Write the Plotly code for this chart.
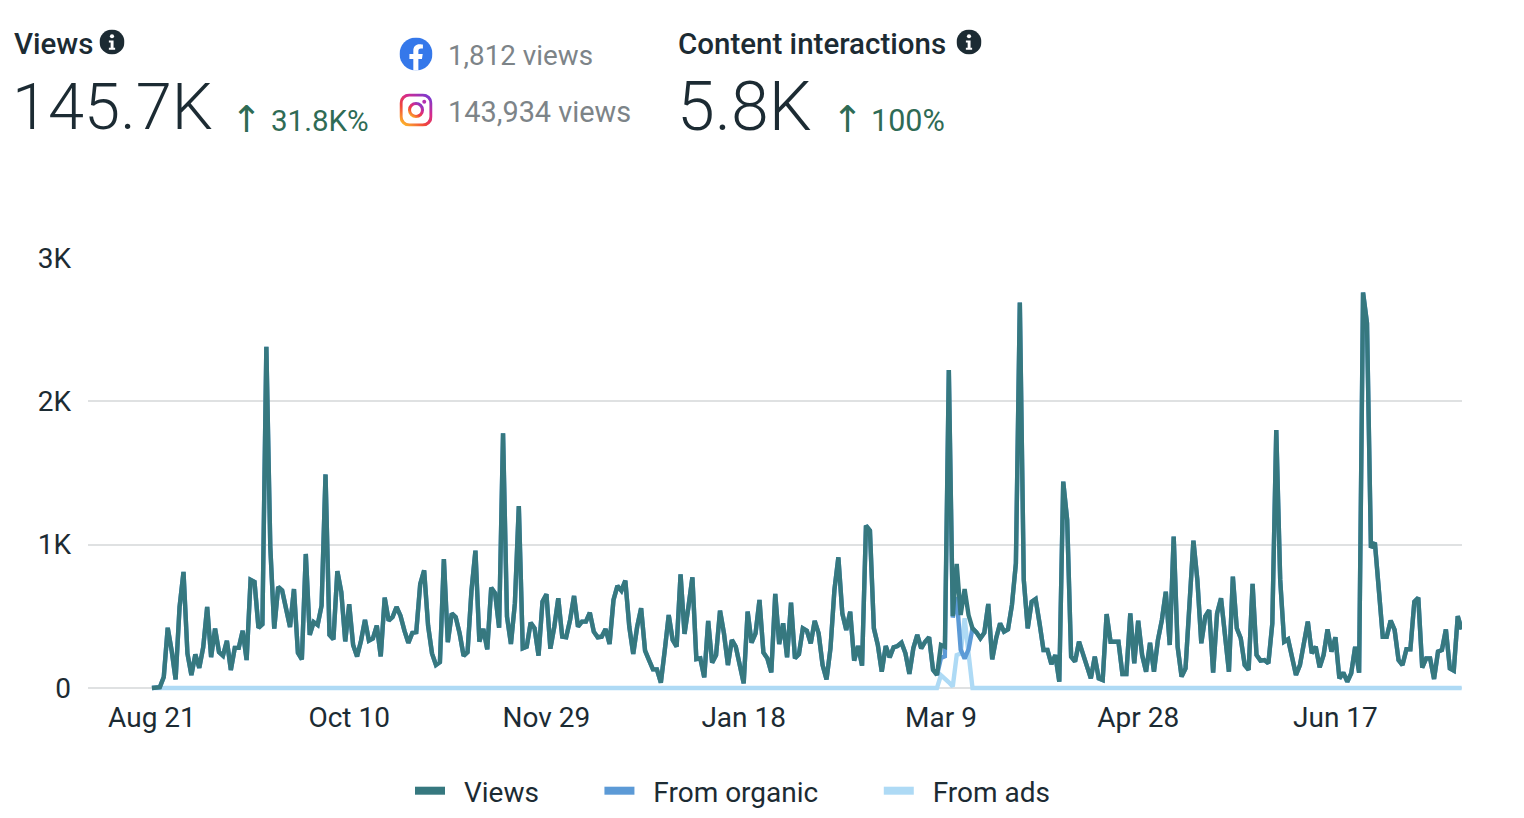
import base64

import pandas as pd
import plotly.graph_objects as go

# Daily values (Aug 21 onwards, one per day)
views = [0, 0, 5, 77, 420, 260, 60, 565, 810, 240, 90, 235, 140, 285, 565, 215, 415, 250, 225, 330,
         125, 280, 280, 400, 195, 755, 740, 420, 445, 2380, 985, 415, 705, 680, 565, 425, 690, 245, 200, 935,
         370, 460, 440, 575, 1490, 370, 340, 815, 670, 325, 585, 300, 220, 330, 475, 330, 345, 435, 220, 630,
         470, 495, 565, 505, 400, 315, 385, 390, 725, 820, 435, 240, 160, 180, 900, 320, 520, 495, 380, 225,
         250, 680, 958, 323, 412, 270, 700, 660, 420, 1777, 498, 307, 590, 1270, 277, 288, 456, 416, 226, 602,
         654, 274, 428, 626, 358, 354, 475, 642, 428, 463, 463, 526, 393, 354, 358, 412, 307, 614, 712, 679,
         749, 428, 237, 428, 556, 260, 195, 130, 130, 37, 265, 509, 335, 288, 793, 377, 568, 772, 202, 207,
         74, 468, 177, 230, 540, 381, 160, 335, 288, 160, 33, 533, 316, 381, 614, 247, 207, 109, 656, 307,
         451, 214, 595, 207, 235, 416, 400, 312, 468, 381, 160, 60, 277, 684, 912, 521, 405, 533, 191, 293,
         156, 1133, 1098, 416, 300, 114, 293, 214, 284, 293, 316, 242, 98, 277, 370, 277, 323, 354, 126, 91,
         300, 288, 2219, 502, 865, 509, 691, 509, 416, 388, 347, 386, 586, 200, 347, 451, 393, 409, 579, 870,
         2689, 754, 416, 602, 621, 451, 265, 265, 167, 230, 44, 1440, 1172, 219, 184, 323, 242, 167, 67, 219,
         67, 56, 516, 323, 323, 323, 98, 98, 521, 172, 470, 230, 114, 316, 114, 335, 474, 672, 300, 1056,
         288, 79, 137, 591, 1028, 754, 312, 498, 544, 107, 521, 626, 358, 114, 777, 416, 347, 160, 126, 726,
         230, 191, 195, 172, 451, 1800, 754, 323, 340, 195, 91, 160, 323, 463, 242, 288, 144, 230, 409, 254,
         354, 67, 107, 44, 102, 288, 107, 2759, 2545, 979, 1014, 719, 358, 358, 470, 405, 195, 160, 270, 270,
         602, 630, 142, 207, 207, 63, 254, 265, 409, 137, 121, 502, 409]

organic = [0, 0, 5, 77, 420, 260, 60, 565, 810, 240, 90, 235, 140, 285, 565, 215, 415, 250, 225, 330,
           125, 280, 280, 400, 195, 755, 740, 420, 445, 2380, 985, 415, 705, 680, 565, 425, 690, 245, 200, 935,
           370, 460, 440, 575, 1490, 370, 340, 815, 670, 325, 585, 300, 220, 330, 475, 330, 345, 435, 220, 630,
           470, 495, 565, 505, 400, 315, 385, 390, 725, 820, 435, 240, 160, 180, 900, 320, 520, 495, 380, 225,
           250, 680, 958, 323, 412, 270, 700, 660, 420, 1777, 498, 307, 590, 1270, 277, 288, 456, 416, 226, 602,
           654, 274, 428, 626, 358, 354, 475, 642, 428, 463, 463, 526, 393, 354, 358, 412, 307, 614, 712, 679,
           749, 428, 237, 428, 556, 260, 195, 130, 130, 37, 265, 509, 335, 288, 793, 377, 568, 772, 202, 207,
           74, 468, 177, 230, 540, 381, 160, 335, 288, 160, 33, 533, 316, 381, 614, 247, 207, 109, 656, 307,
           451, 214, 595, 207, 235, 416, 400, 312, 468, 381, 160, 60, 277, 684, 912, 521, 405, 533, 191, 293,
           156, 1133, 1098, 416, 300, 114, 293, 214, 284, 293, 316, 242, 98, 277, 370, 277, 323, 354, 126, 91,
           210, 221, 2219, 492, 635, 269, 205, 269, 416, 388, 347, 386, 586, 200, 347, 451, 393, 409, 579, 870,
           2689, 754, 416, 602, 621, 451, 265, 265, 167, 230, 44, 1440, 1172, 219, 184, 323, 242, 167, 67, 219,
           67, 56, 516, 323, 323, 323, 98, 98, 521, 172, 470, 230, 114, 316, 114, 335, 474, 672, 300, 1056,
           288, 79, 137, 591, 1028, 754, 312, 498, 544, 107, 521, 626, 358, 114, 777, 416, 347, 160, 126, 726,
           230, 191, 195, 172, 451, 1800, 754, 323, 340, 195, 91, 160, 323, 463, 242, 288, 144, 230, 409, 254,
           354, 67, 107, 44, 102, 288, 107, 2759, 2545, 979, 1014, 719, 358, 358, 470, 405, 195, 160, 270, 270,
           602, 630, 142, 207, 207, 63, 254, 265, 409, 137, 121, 502, 409]

ads_spike = [90, 67, 40, 10, 230, 240, 486, 240]
ads = [0] * 200 + ads_spike + [0] * 125

tick_dates = ["2022-08-21", "2022-10-10", "2022-11-29", "2023-01-18", "2023-03-09", "2023-04-28", "2023-06-17"]
tick_labels = ["Aug 21", "Oct 10", "Nov 29", "Jan 18", "Mar 9", "Apr 28", "Jun 17"]
y_ticks = [0, 1000, 2000, 3000]
y_labels = ["0", "1K", "2K", "3K"]

days = pd.date_range("2022-08-21", periods=len(views), freq="D")

W, H = 1524, 818
# Plot area runs a little under the zero line so the baseline isn't cut in half
LEFT, RIGHT, TOP, BOTTOM = 88, 1462, 258, 691
Y_MIN = -3000 * 3 / 430
FONT = "Roboto"
DARK = "#1c2b33"
GREY = "#7d8488"
GREEN = "#2f6b55"
TEAL = "#36787f"
BLUE = "#5c9ad6"
LIGHT = "#aedaf5"


# Paper coordinates are relative to the plot area
def paper_x(x):
    return (x - LEFT) / (RIGHT - LEFT)


def paper_y(y):
    return (BOTTOM - y) / (BOTTOM - TOP)


def svg_uri(svg):
    return "data:image/svg+xml;base64," + base64.b64encode(svg.encode()).decode()


INFO = """<svg xmlns="http://www.w3.org/2000/svg" viewBox="0 0 24 24"><circle cx="12" cy="12" r="12" fill="#1c2b33"/>
<circle cx="12" cy="6.5" r="2" fill="#fff"/><path d="M9 10.5h4.5v7H15v2H9v-2h1.7v-5H9z" fill="#fff"/></svg>"""

FACEBOOK = """<svg xmlns="http://www.w3.org/2000/svg" viewBox="0 0 32 32"><circle cx="16" cy="16" r="16" fill="#3578ea"/>
<path d="M13.4 32V20.8H9.6V16h3.8v-3.2c0-4.1 2.4-6.3 6-6.3 1.7 0 3.3.3 3.3.3v3.9h-1.9c-1.9 0-2.5 1.2-2.5 2.4V16h4.2l-.7 4.8h-3.5V32z" fill="#fff"/></svg>"""

INSTAGRAM = """<svg xmlns="http://www.w3.org/2000/svg" viewBox="0 0 32 32"><defs><linearGradient id="g" x1="0.1" y1="1" x2="0.9" y2="0">
<stop offset="0" stop-color="#fdb32b"/><stop offset="0.35" stop-color="#f0443c"/><stop offset="0.65" stop-color="#d42a8e"/><stop offset="1" stop-color="#7a3ad0"/></linearGradient></defs>
<rect x="1.5" y="1.5" width="29" height="29" rx="8" fill="none" stroke="url(#g)" stroke-width="3"/>
<circle cx="16" cy="16" r="6.3" fill="none" stroke="url(#g)" stroke-width="3"/><circle cx="24" cy="8" r="1.9" fill="#b52fb0"/></svg>"""


def icon(svg, x, y, size):
    return dict(source=svg_uri(svg), xref="paper", yref="paper", x=paper_x(x), y=paper_y(y),
                sizex=size / (RIGHT - LEFT), sizey=size / (BOTTOM - TOP), xanchor="center", yanchor="middle",
                sizing="contain", layer="above")


def label(text, x, y, size, color, weight=400, family=FONT):
    return dict(text=text, x=paper_x(x), y=paper_y(y), xref="paper", yref="paper", xanchor="left", yanchor="middle",
                showarrow=False, borderpad=0, borderwidth=0,
                font=dict(family=family, size=size, color=color, weight=weight))


fig = go.Figure()

# Views goes last so it sits on top of the other two
fig.add_trace(go.Scatter(x=days, y=ads, mode="lines", name="From ads", showlegend=False,
                         line=dict(color=LIGHT, width=4.4)))
fig.add_trace(go.Scatter(x=days, y=organic, mode="lines", name="From organic", showlegend=False,
                         line=dict(color=BLUE, width=4.4)))
fig.add_trace(go.Scatter(x=days, y=views, mode="lines", name="Views", showlegend=False,
                         line=dict(color=TEAL, width=4.4)))

# Empty traces only for the thicker legend keys
pad = "\u00a0" * 2
gap = "\u00a0" * 8
for name, color in [("Views", TEAL), ("From organic", BLUE), ("From ads", LIGHT)]:
    fig.add_trace(go.Scatter(x=[None], y=[None], mode="lines", name=pad + name + gap,
                             line=dict(color=color, width=8)))

fig.update_layout(
    width=W,
    height=H,
    autosize=False,
    paper_bgcolor="white",
    plot_bgcolor="white",
    margin=dict(l=LEFT, r=W - RIGHT, t=TOP, b=H - BOTTOM),
    font=dict(family=FONT, color=DARK),
    legend=dict(orientation="h", xref="container", yref="container", x=410 / W, y=1 - 791 / H,
                xanchor="left", yanchor="middle", bgcolor="rgba(0,0,0,0)",
                font=dict(family=FONT, size=28, color=DARK), itemclick=False, itemdoubleclick=False),
    images=[
        icon(INFO, 112, 42, 25),
        icon(INFO, 969, 42, 25),
        icon(FACEBOOK, 416, 54, 33),
        icon(INSTAGRAM, 416, 110, 33),
    ],
    annotations=[
        label("Views", 14, 44, 29.5, DARK, 500),
        label("145.7K", 12, 107, 65, DARK, 300),
        label("↑", 231, 119, 37, GREEN, 400, "DejaVu Sans"),
        label("31.8K%", 271, 121, 29.5, GREEN),
        label("1,812 views", 448, 56, 27.8, GREY),
        label("143,934 views", 448, 112, 28.9, GREY),
        label("Content interactions", 678, 44, 29.5, DARK, 500),
        label("5.8K", 677, 107, 68, DARK, 300),
        label("↑", 832, 119, 37, GREEN, 400, "DejaVu Sans"),
        label("100%", 871, 121, 30.5, GREEN),
    ],
)

fig.update_xaxes(
    type="date",
    range=["2022-08-04 19:00", "2023-07-19 02:00"],
    tickmode="array",
    tickvals=tick_dates,
    ticktext=tick_labels,
    showgrid=False,
    zeroline=False,
    showline=False,
    ticks="",
    ticklabelstandoff=7,
    tickfont=dict(family=FONT, size=28, color=DARK),
)
fig.update_yaxes(
    range=[Y_MIN, 3000],
    tickmode="array",
    tickvals=y_ticks,
    ticktext=y_labels,
    showgrid=True,
    gridcolor="#dfe1e2",
    gridwidth=2,
    zeroline=False,
    showline=False,
    ticks="",
    ticklabelstandoff=16,
    tickfont=dict(family=FONT, size=28, color=DARK),
)

fig.write_html("out.html", config={"displayModeBar": False},
               post_script="document.body.style.margin='0';document.body.style.overflow='hidden';")
